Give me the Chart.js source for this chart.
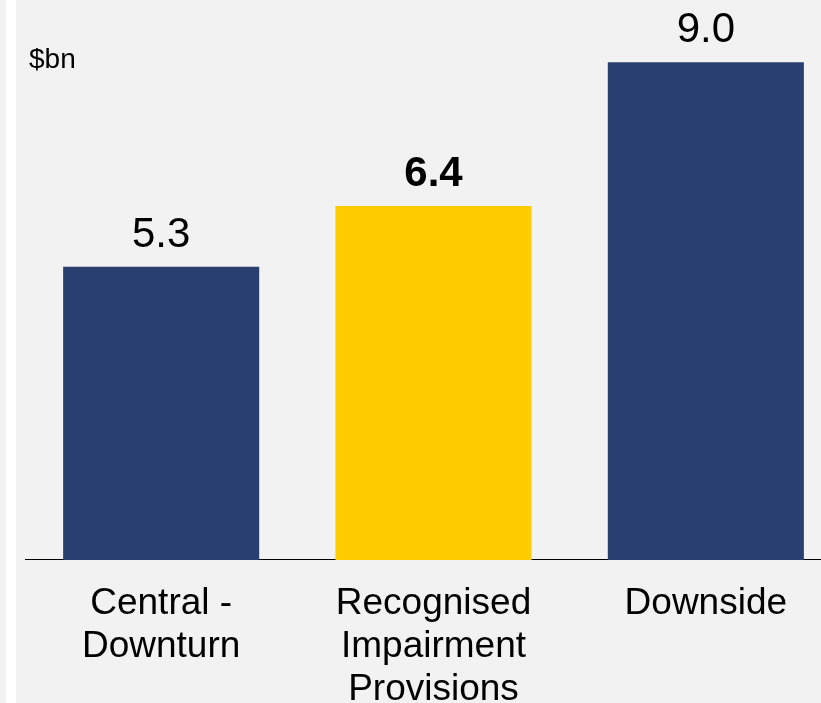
<!DOCTYPE html>
<html>
<head>
<meta charset="utf-8">
<script src="https://cdn.jsdelivr.net/npm/chart.js@4"></script>
<style>
  html, body { margin: 0; padding: 0; background: #f2f2f2; overflow: hidden; width: 821px; height: 703px; }
  #wrap { position: absolute; left: 0; top: 0; width: 850px; height: 733px; }
  #strip { position: absolute; left: 6px; top: 0; width: 10px; height: 703px; background: #ffffff; z-index: 2; }
</style>
</head>
<body>
<div id="wrap"><canvas id="c" width="850" height="733"></canvas></div>
<div id="strip"></div>
<script>
const categories = [["Central -", "Downturn"], ["Recognised", "Impairment", "Provisions"], ["Downside"]];
const values = [5.3, 6.4, 9.0];
const valueLabels = ["5.3", "6.4", "9.0"];
const barColors = ["#293f6f", "#ffcc00", "#293f6f"];
const boldLabel = [false, true, false];
const unitLabel = "$bn";

const FONT = "'Liberation Sans', Arial, sans-serif";

const labelPlugin = {
  id: 'valueLabels',
  afterDatasetsDraw(chart) {
    const ctx = chart.ctx;
    const meta = chart.getDatasetMeta(0);
    ctx.save();
    ctx.fillStyle = '#000';
    ctx.textAlign = 'center';
    ctx.textBaseline = 'alphabetic';
    meta.data.forEach((bar, i) => {
      ctx.font = (boldLabel[i] ? 'bold ' : '') + '42px ' + FONT;
      ctx.fillText(valueLabels[i], bar.x, bar.y - 20);
    });
    ctx.font = '28px ' + FONT;
    ctx.textAlign = 'left';
    ctx.fillText(unitLabel, 29, 68);
    ctx.restore();
  }
};

new Chart(document.getElementById('c'), {
  type: 'bar',
  data: {
    labels: categories,
    datasets: [{
      data: values,
      backgroundColor: barColors,
      borderWidth: 0,
      barPercentage: 0.72,
      categoryPercentage: 1.0
    }]
  },
  options: {
    responsive: false,
    animation: false,
    devicePixelRatio: 1,
    layout: { padding: { left: 25, right: 8, top: 7, bottom: 0 } },
    plugins: { legend: { display: false }, tooltip: { enabled: false } },
    scales: {
      x: {
        offset: true,
        grid: { display: false, drawTicks: false },
        border: { display: true, color: '#000', width: 1 },
        ticks: {
          color: '#000',
          padding: 22,
          maxRotation: 0,
          autoSkip: false,
          font: { family: FONT, size: 37, lineHeight: 1.163 }
        }
      },
      y: {
        display: false,
        min: 0,
        max: 10
      }
    }
  },
  plugins: [labelPlugin]
});
</script>
</body>
</html>
